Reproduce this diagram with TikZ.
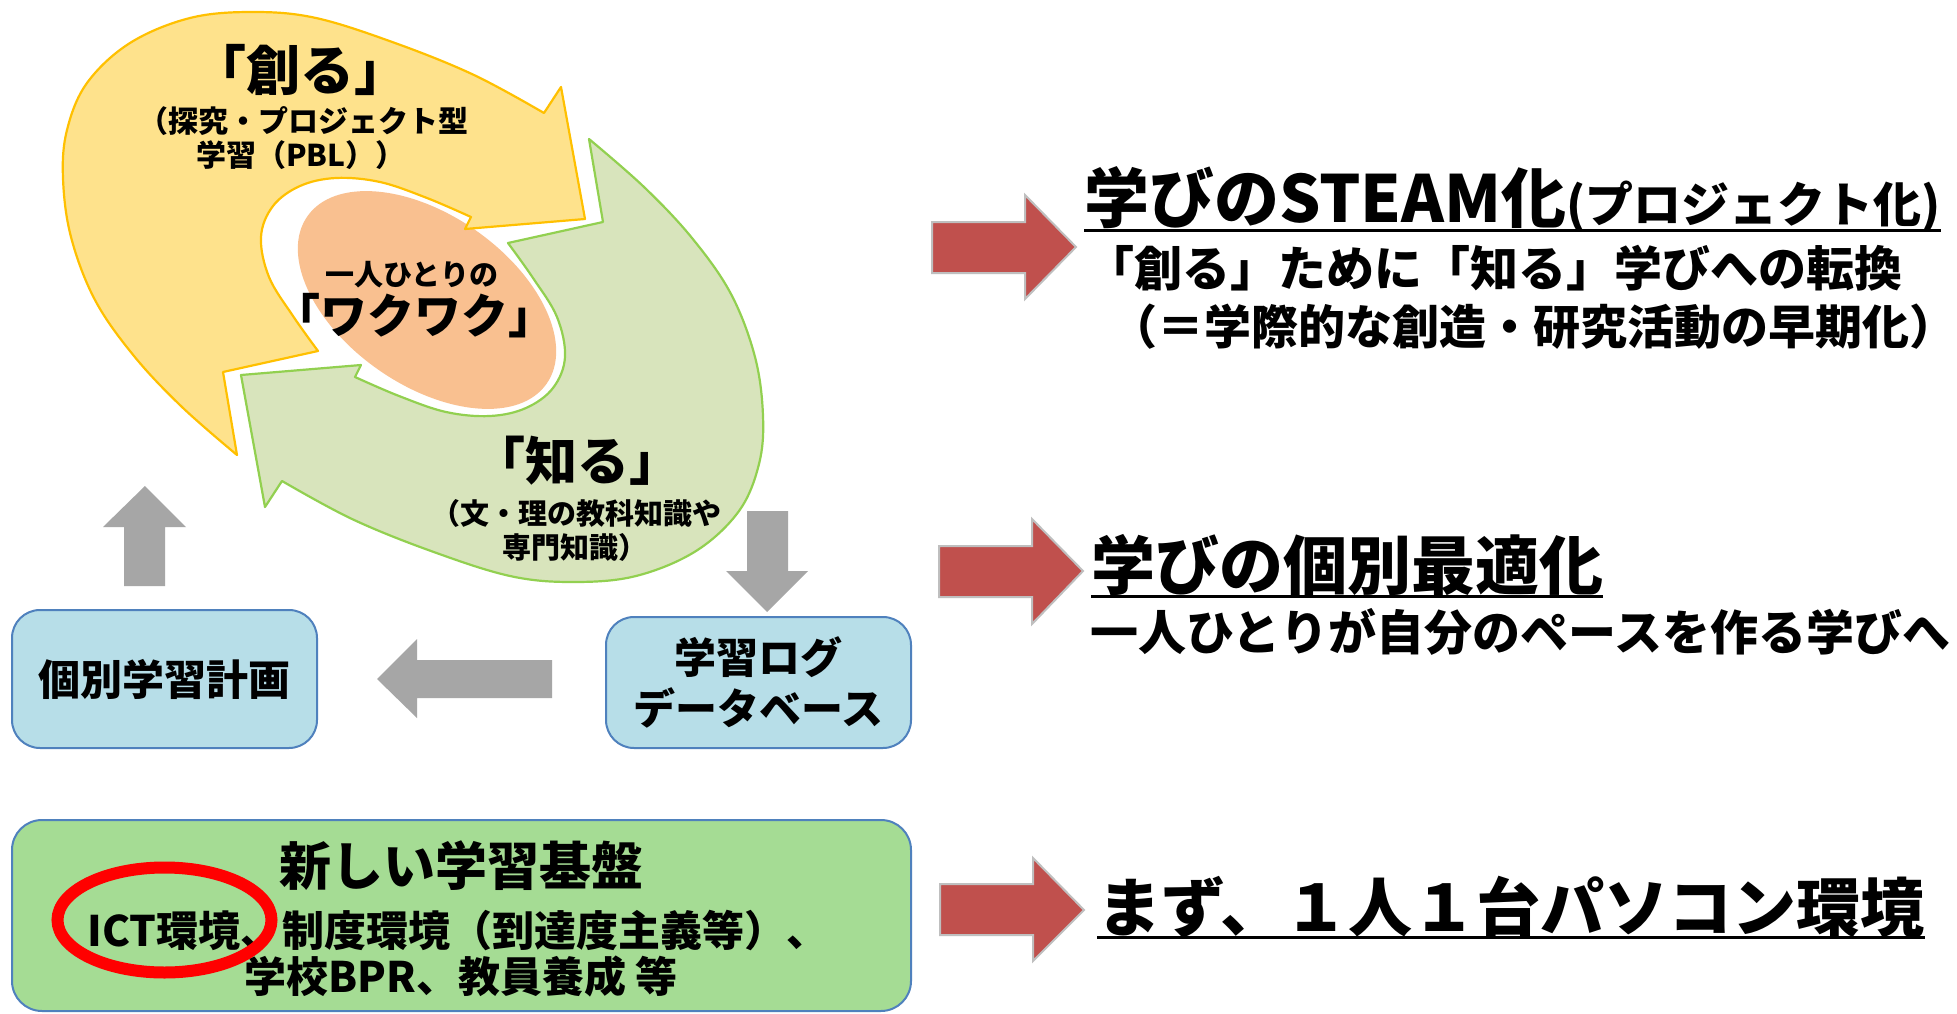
\documentclass[tikz,border=0pt]{standalone}
\usepackage{fontspec}
\setmainfont{Noto Sans CJK JP}
\newcommand\fsz[1]{\fontsize{#1}{#1}\selectfont}
\definecolor{yfill}{HTML}{FEE28C}
\definecolor{ystroke}{HTML}{FFC000}
\definecolor{gfill}{HTML}{D8E4BC}
\definecolor{gstroke}{HTML}{92D050}
\definecolor{ofill}{HTML}{F9C090}
\definecolor{bfill}{HTML}{B7DEE8}
\definecolor{bstroke}{HTML}{4F81BD}
\definecolor{kfill}{HTML}{A5DC94}
\definecolor{grayar}{HTML}{A6A6A6}
\definecolor{redar}{HTML}{C0504D}
\definecolor{redarline}{HTML}{BFBFBF}
\definecolor{ringred}{HTML}{FF0000}
\begin{document}
\begin{tikzpicture}[x=1pt,y=-1pt,
  txt/.style={inner sep=0pt, outer sep=0pt, text=black},
  bluebox/.style={draw=bstroke, fill=bfill, line width=2pt, rounded corners=28pt, inner sep=0pt},
  greenbox/.style={draw=bstroke, fill=kfill, line width=2pt, rounded corners=30pt, inner sep=0pt},
  grayarrow/.style={fill=grayar},
  redarrow/.style={fill=redar, draw=redarline, line width=2pt},
  uline/.style={line width=3pt},
  cycyellow/.style={fill=yfill, draw=ystroke, line width=2.2pt, line join=round},
  cycgreen/.style={fill=gfill, draw=gstroke, line width=2.2pt, line join=round}]
\useasboundingbox (0,0) rectangle (1957,1014);
\fill[white] (0,0) rectangle (1957,1014);

% central ellipse
\fill[ofill, shift={(427,300)}, rotate=-35] (0,0) ellipse [x radius=146pt, y radius=85pt];

% yellow circular arrow
\def\cycpath{(544,113) -- (561,87) -- (585,219) -- (465,229) -- (471,217)
  -- plot[smooth, tension=0.6] coordinates {(471,217) (427,198) (380,182) (336,178) (300,186) (273,206) (261,237) (269,277) (293,316) (318,351)}
  -- (223,372) -- (237,455)
  -- plot[smooth, tension=0.6] coordinates {(237,455) (182,407) (134,356) (95,300) (71,237) (63,178) (67,130) (87,83) (130,43) (190,18) (253,12) (316,18) (395,43) (474,75) (544,113)}
  -- cycle}
\path[cycyellow] \cycpath;
\begin{scope}[rotate around={180:(413,297)}]
\path[cycgreen] \cycpath;
\end{scope}

% texts in the cycle
\node[txt, font=\bfseries\fsz{54}] (sozo) at (300,70) {「創る」};
\node[txt, anchor=west, font=\bfseries\fsz{30}] (sozo1) at (138,121) {（探究・プロジェクト型};
\node[txt, anchor=west, font=\bfseries\fsz{30}] (sozo2) at (196,155) {学習（PBL））};
\node[txt, font=\bfseries\fsz{29}] (hitori) at (412,275) {一人ひとりの};
\node[txt, font=\bfseries\fsz{47}] (waku) at (414,316) {「ワクワク」};
\node[txt, font=\bfseries\fsz{52}] (shiru) at (577,461) {「知る」};
\node[txt, anchor=west, font=\bfseries\fsz{29}] (shiru1) at (431,513) {（文・理の教科知識や};
\node[txt, anchor=west, font=\bfseries\fsz{29}] (shiru2) at (502,547) {専門知識）};

% boxes
\node[bluebox, minimum width=305pt, minimum height=138pt, font=\bfseries\fsz{42}] (plan) at (164.5,679) {個別学習計画};
\node[bluebox, minimum width=305pt, minimum height=131pt, align=center, font=\bfseries\fontsize{42}{51}\selectfont] (log) at (758.5,682.5) {学習ログ\\データベース};
\node[greenbox, minimum width=899pt, minimum height=191pt] (kiban) at (461.5,915.5) {};
\node[txt, font=\bfseries\fsz{52}] (k1) at (461,866) {新しい学習基盤};
\node[txt, font=\bfseries\fsz{42}] (k2) at (458,930) {ICT環境、制度環境（到達度主義等）、};
\node[txt, font=\bfseries\fsz{42}] (k3) at (461,976) {学校BPR、教員養成 等};
\draw[ringred, line width=12pt] (164.5,920) ellipse [x radius=107pt, y radius=52.5pt];

% gray block arrows
\fill[grayarrow] (145,486) -- (186,527) -- (165,527) -- (165,586) -- (124,586) -- (124,527) -- (103,527) -- cycle;
\fill[grayarrow] (767,612) -- (808,571) -- (788,571) -- (788,511) -- (747,511) -- (747,571) -- (726,571) -- cycle;
\fill[grayarrow] (377,679) -- (417,639) -- (417,660) -- (552,660) -- (552,698) -- (417,698) -- (417,718) -- cycle;

% red block arrows
\path[redarrow] (932,222) -- (1025,222) -- (1025,195) -- (1076,247) -- (1025,299) -- (1025,273) -- (932,273) -- cycle;
\path[redarrow] (939,546) -- (1032,546) -- (1032,519) -- (1083,571) -- (1032,624) -- (1032,597) -- (939,597) -- cycle;
\path[redarrow] (940,884) -- (1033,884) -- (1033,858) -- (1084,910) -- (1033,961) -- (1033,935) -- (940,935) -- cycle;

% right texts
\node[txt, anchor=west, font=\bfseries\fsz{65}] (t1) at (1084,198) {学びのSTEAM化};
\node[txt, anchor=base west, font=\bfseries\fsz{48}] (t1b) at (t1.base east) {(プロジェクト化)};
\draw[uline] ([yshift=-8pt]t1.base west) -- ([yshift=-8pt]t1b.base east);
\node[txt, anchor=west, font=\bfseries\fsz{48}] (l2) at (1086,268) {「創る」ために「知る」学びへの転換};
\node[txt, anchor=west, font=\bfseries\fsz{47}] (l3) at (1110,327) {（＝学際的な創造・研究活動の早期化）};

\node[txt, anchor=west, font=\bfseries\fsz{64}] (t2) at (1091,565) {学びの個別最適化};
\draw[uline] ([yshift=-7pt]t2.base west) -- ([yshift=-7pt]t2.base east);
\node[txt, anchor=west, font=\bfseries\fsz{48}] (l4) at (1090,632) {一人ひとりが自分のペースを作る学びへ};

\node[txt, anchor=west, font=\bfseries\fsz{64}] (t3) at (1097,907) {まず、１人１台パソコン環境};
\draw[uline] ([yshift=-6pt]t3.base west) -- ([yshift=-6pt]t3.base east);
\end{tikzpicture}
\end{document}
